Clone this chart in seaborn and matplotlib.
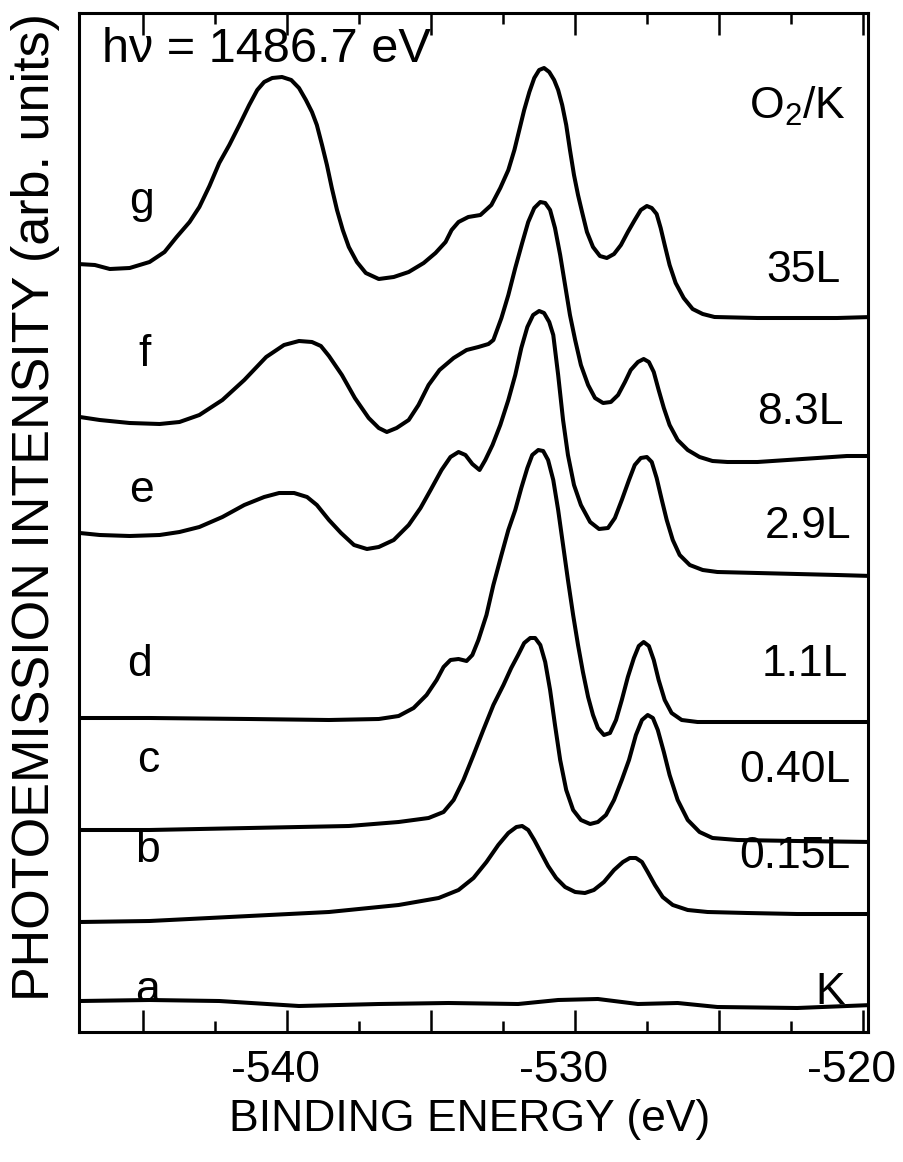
import matplotlib
matplotlib.use("Agg")
import numpy as np
import pandas as pd
import seaborn as sns
import matplotlib.pyplot as plt
from matplotlib.ticker import FixedLocator, FixedFormatter
from matplotlib.transforms import ScaledTranslation

# ---------------- data (binding energy in eV, intensity in arb. units, curves stacked) -------------
g_energy = [-547.27, -546.68, -546.16, -545.47, -544.78, -544.26, -543.84, -543.39, -543.05, -542.70,
            -542.36, -542.01, -541.66, -541.32, -541.04, -540.80, -540.52, -540.18, -539.86, -539.59,
            -539.35, -539.14, -538.97, -538.79, -538.62, -538.45, -538.27, -538.07, -537.86, -537.58,
            -537.27, -536.82, -536.30, -535.78, -535.26, -534.85, -534.50, -534.29, -534.05, -533.71,
            -533.29, -532.91, -532.60, -532.32, -532.11, -531.94, -531.77, -531.59, -531.42, -531.25,
            -531.08, -530.90, -530.73, -530.59, -530.45, -530.31, -530.18, -530.04, -529.90, -529.76,
            -529.59, -529.38, -529.14, -528.90, -528.65, -528.41, -528.17, -527.93, -527.72, -527.51,
            -527.34, -527.17, -527.03, -526.89, -526.72, -526.51, -526.23, -525.92, -525.57, -525.16,
            -523.67, -522.29, -520.90, -519.69]
g_intensity = [768, 767, 763, 764, 770, 780, 795, 810, 825, 846,
               869, 887, 907, 927, 942, 950, 954, 955, 952, 944,
               932, 920, 907, 887, 867, 844, 822, 802, 785, 770,
               759, 753, 755, 760, 769, 779, 790, 802, 810, 815,
               817, 827, 844, 862, 882, 902, 922, 940, 954, 962,
               964, 960, 952, 942, 927, 907, 882, 857, 837, 820,
               800, 785, 776, 774, 778, 787, 800, 812, 822, 826,
               824, 818, 804, 787, 767, 749, 734, 723, 718, 715,
               714, 714, 714, 715]

f_energy = [-547.20, -546.51, -545.47, -544.43, -543.74, -543.05, -542.25, -541.49, -540.73, -540.11,
            -539.59, -539.14, -538.83, -538.55, -538.10, -537.65, -537.17, -536.82, -536.54, -536.20,
            -535.78, -535.44, -535.09, -534.71, -534.22, -533.77, -533.36, -533.01, -532.84, -532.56,
            -532.32, -532.08, -531.84, -531.63, -531.42, -531.21, -531.04, -530.87, -530.70, -530.52,
            -530.35, -530.18, -530.00, -529.80, -529.55, -529.31, -529.03, -528.76, -528.51, -528.27,
            -528.07, -527.82, -527.62, -527.44, -527.27, -527.10, -526.92, -526.72, -526.44, -526.09,
            -525.68, -525.23, -524.71, -523.67, -522.63, -521.59, -520.56, -519.69]
f_intensity = [615, 612, 609, 608, 610, 617, 632, 652, 675, 687,
               691, 690, 686, 676, 657, 634, 614, 604, 600, 604,
               612, 627, 647, 662, 674, 682, 685, 688, 692, 714,
               737, 764, 789, 810, 824, 830, 829, 822, 804, 777,
               747, 717, 692, 667, 647, 634, 629, 630, 637, 650,
               662, 670, 673, 670, 660, 642, 624, 607, 592, 582,
               575, 571, 570, 570, 572, 574, 576, 576]

e_energy = [-547.20, -546.51, -545.47, -544.43, -543.74, -543.05, -542.25, -541.49, -540.80, -540.28,
            -539.76, -539.31, -538.97, -538.55, -538.13, -537.68, -537.23, -536.82, -536.30, -535.78,
            -535.37, -535.02, -534.64, -534.33, -534.05, -533.81, -533.57, -533.32, -533.12, -532.87,
            -532.60, -532.32, -532.08, -531.87, -531.66, -531.46, -531.25, -531.08, -530.90, -530.76,
            -530.59, -530.42, -530.25, -530.04, -529.80, -529.48, -529.17, -528.86, -528.62, -528.38,
            -528.13, -527.93, -527.72, -527.51, -527.34, -527.17, -526.99, -526.82, -526.61, -526.37,
            -526.02, -525.57, -525.06, -523.67, -522.29, -520.90, -519.69]
e_intensity = [499, 497, 496, 497, 500, 505, 515, 527, 535, 539,
               539, 535, 527, 512, 499, 487, 483, 485, 492, 507,
               524, 542, 562, 575, 580, 577, 568, 562, 572, 587,
               607, 632, 657, 684, 705, 717, 721, 719, 710, 697,
               657, 612, 577, 547, 527, 510, 503, 504, 514, 532,
               552, 567, 574, 575, 570, 554, 532, 512, 492, 477,
               467, 462, 460, 459, 458, 457, 456]

d_energy = [-547.20, -544.78, -541.32, -538.55, -536.82, -536.13, -535.61, -535.16, -534.81, -534.57,
            -534.33, -534.05, -533.77, -533.57, -533.36, -533.08, -532.84, -532.56, -532.32, -532.08,
            -531.87, -531.66, -531.49, -531.28, -531.11, -530.94, -530.76, -530.59, -530.42, -530.25,
            -530.07, -529.90, -529.73, -529.55, -529.38, -529.21, -529.00, -528.79, -528.58, -528.38,
            -528.17, -527.96, -527.79, -527.62, -527.44, -527.27, -527.10, -526.89, -526.65, -526.30,
            -525.75, -524.71, -522.29, -519.69]
d_intensity = [314, 314, 313, 312, 313, 316, 324, 337, 352, 365,
               372, 373, 371, 377, 392, 417, 447, 477, 502, 522,
               544, 564, 577, 582, 581, 572, 552, 522, 487, 452,
               417, 387, 360, 335, 317, 304, 297, 299, 312, 332,
               355, 374, 386, 390, 386, 372, 352, 332, 319, 312,
               310, 310, 310, 310]

c_energy = [-547.20, -544.78, -541.32, -537.86, -536.13, -535.09, -534.57, -534.22, -533.88, -533.53,
            -533.19, -532.84, -532.49, -532.22, -531.98, -531.77, -531.56, -531.39, -531.21, -531.04,
            -530.87, -530.70, -530.52, -530.31, -530.07, -529.80, -529.48, -529.21, -528.93, -528.65,
            -528.38, -528.13, -527.89, -527.68, -527.48, -527.30, -527.13, -526.92, -526.72, -526.44,
            -526.09, -525.68, -525.23, -524.36, -522.29, -519.69]
c_intensity = [202, 202, 204, 206, 210, 214, 220, 232, 252, 277,
               302, 327, 347, 364, 377, 389, 394, 394, 387, 370,
               342, 307, 272, 242, 222, 212, 208, 210, 217, 232,
               252, 272, 297, 312, 317, 314, 302, 280, 257, 232,
               212, 200, 194, 192, 191, 190]

b_energy = [-547.20, -544.78, -541.32, -538.55, -536.13, -534.74, -534.05, -533.53, -533.08, -532.67,
            -532.32, -532.04, -531.84, -531.63, -531.42, -531.18, -530.94, -530.66, -530.35, -530.00,
            -529.66, -529.35, -529.00, -528.65, -528.34, -528.10, -527.89, -527.68, -527.48, -527.23,
            -526.96, -526.61, -526.09, -525.40, -524.02, -522.29, -519.69]
b_intensity = [110, 111, 116, 120, 127, 134, 142, 154, 170, 187,
               199, 205, 206, 202, 192, 179, 166, 154, 145, 140,
               139, 142, 150, 162, 170, 174, 174, 170, 160, 147,
               135, 127, 122, 120, 119, 118, 118]

a_energy = [-547.20, -544.78, -542.36, -539.59, -536.82, -534.40, -531.98, -530.59, -529.21, -527.82,
            -526.44, -525.06, -522.29, -519.69]
a_intensity = [31, 32, 31, 26, 28, 29, 28, 32, 33, 28, 29, 25, 24, 27]

curve_names = ["a", "b", "c", "d", "e", "f", "g"]
exposures = ["K", "0.15L", "0.40L", "1.1L", "2.9L", "8.3L", "35L"]
major_ticks = [-545, -540, -535, -530, -525, -520]
major_labels = ["", "-540", "", "-530", "", "-520"]
minor_ticks = [-542.5, -537.5, -532.5, -527.5, -522.5]

# ---------------- build table ----------------
series = {
    "a": (a_energy, a_intensity), "b": (b_energy, b_intensity), "c": (c_energy, c_intensity),
    "d": (d_energy, d_intensity), "e": (e_energy, e_intensity), "f": (f_energy, f_intensity),
    "g": (g_energy, g_intensity),
}
frames = []
for name in curve_names:
    en, it = series[name]
    frames.append(pd.DataFrame({"curve": name, "energy": en, "intensity": it}))
df = pd.concat(frames, ignore_index=True)

# ---------------- style ----------------
sns.set_theme(style="white")
plt.rcParams["font.family"] = ["Liberation Sans", "DejaVu Sans"]
plt.rcParams["mathtext.fontset"] = "custom"
plt.rcParams["mathtext.rm"] = "Liberation Sans"

W, H = 904, 1162
fig = plt.figure(figsize=(W / 100, H / 100), dpi=100)
fig.patch.set_facecolor("white")
ax = fig.add_axes([79 / W, 1 - 1032 / H, (868 - 79) / W, (1032 - 13) / H])

sns.lineplot(data=df, x="energy", y="intensity", units="curve", estimator=None, sort=False,
             color="black", linewidth=2.9, ax=ax, legend=False)

ax.set_xlim(-547.23, -519.83)
ax.set_ylim(0, 1019)
ax.set_xlabel("")
ax.set_ylabel("")
ax.set_yticks([])
ax.xaxis.set_major_locator(FixedLocator(major_ticks))
ax.xaxis.set_major_formatter(FixedFormatter(major_labels))
ax.xaxis.set_minor_locator(FixedLocator(minor_ticks))
ax.tick_params(axis="x", which="major", direction="in", length=16, width=1.8, color="black",
               top=True, bottom=True, labelsize=32, pad=13, labelcolor="black")
ax.tick_params(axis="x", which="minor", direction="in", length=8, width=1.8, color="black",
               top=True, bottom=True)
shift = ScaledTranslation(-12 / 100, 0, fig.dpi_scale_trans)
for lab in ax.get_xticklabels():
    lab.set_transform(lab.get_transform() + shift)
for sp in ax.spines.values():
    sp.set_color("black")
    sp.set_linewidth(2.2)
ax.set_facecolor("white")

def px(x, y):
    return x / W, 1 - y / H

# axis titles
fig.text(*px(470, 1120), "BINDING ENERGY (eV)", ha="center", va="center", fontsize=32, color="black")
fig.text(*px(36, 507), "PHOTOEMISSION INTENSITY (arb. units)", ha="center", va="center",
         rotation=90, fontsize=37.5, color="black")

# in-plot annotations
fig.text(*px(102, 62), "h\u03bd = 1486.7 eV", ha="left", va="baseline", fontsize=35, color="black")
fig.text(*px(798, 106), "O$_\\mathregular{2}$/K", ha="center", va="center", fontsize=32, color="black")

left_pos = [(148, 990), (148, 850), (148, 760), (140, 665), (142, 490), (145, 355), (142, 202)]
right_pos = [(830, 993), (795, 857), (795, 770), (805, 665), (808, 527), (800, 413), (803, 270)]
for name, (lx, ly) in zip(curve_names, left_pos):
    fig.text(*px(lx, ly), name, ha="center", va="center", fontsize=32, color="black")
for lab, (rx, ry) in zip(exposures, right_pos):
    fig.text(*px(rx, ry), lab, ha="center", va="center", fontsize=32, color="black")

fig.savefig("out.png", dpi=100, facecolor="white")
